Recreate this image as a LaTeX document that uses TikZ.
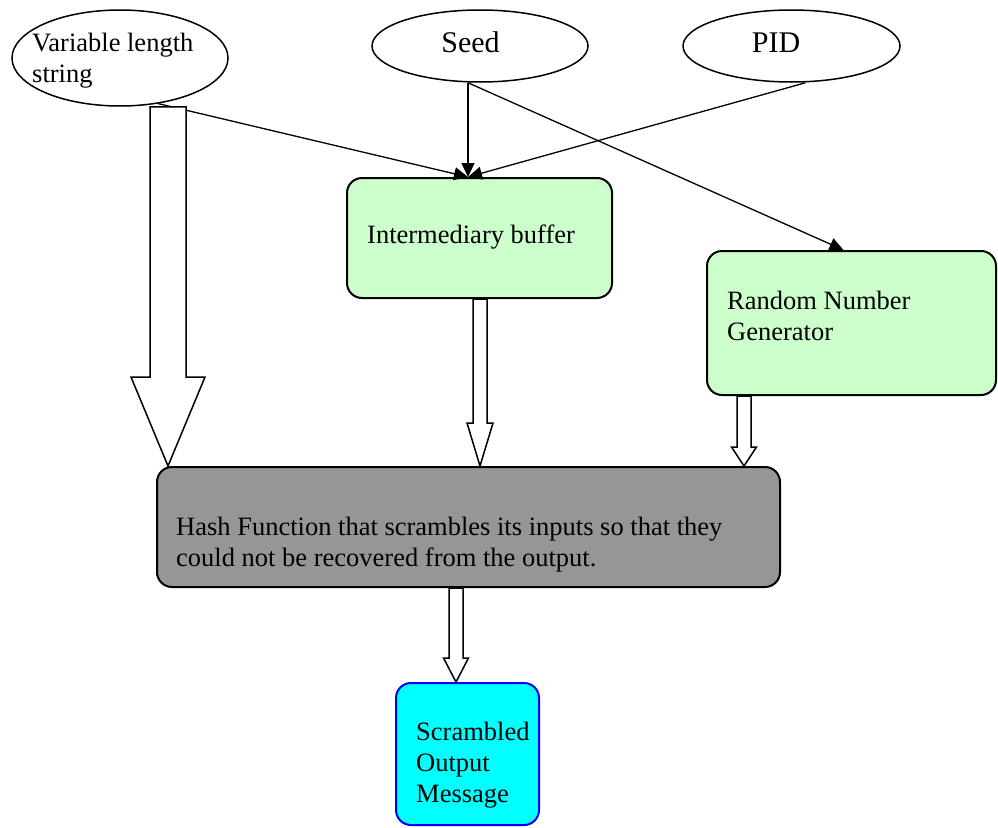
\documentclass[tikz,border=0pt]{standalone}
\usepackage{fontspec}
\setmainfont{Liberation Serif}
\usetikzlibrary{shapes.geometric,arrows.meta,calc}
\definecolor{boxgreen}{HTML}{CCFFCC}
\definecolor{hashgray}{HTML}{969696}
\definecolor{scrcyan}{HTML}{00FFFF}
\definecolor{scrblue}{HTML}{0000FF}
\tikzset{
  inputell/.style={ellipse, draw, line width=1.5pt, inner sep=0pt},
  procbox/.style={rectangle, rounded corners=15pt, draw, line width=2pt, inner sep=0pt},
  txt/.style={inner sep=0pt, anchor=base west, align=left, font=\fontsize{26.5}{31}\selectfont},
  bigtxt/.style={inner sep=0pt, anchor=base, font=\fontsize{30}{34}\selectfont},
  conn/.style={line width=1.3pt, -{Triangle[length=14pt,width=13pt]}},
  barrowst/.style={draw, fill=white, line width=1.5pt, line join=miter},
}
\newcommand{\barr}[5]{% start, end, shaft half, head half, head length
  \draw[barrowst] let \p1=(#1), \p2=(#2) in
    (\x1-#3pt,\y1) -- (\x1-#3pt,\y2+#5pt) -- (\x1-#4pt,\y2+#5pt) -- (\x1,\y2)
    -- (\x1+#4pt,\y2+#5pt) -- (\x1+#3pt,\y2+#5pt) -- (\x1+#3pt,\y1) -- cycle;}
\begin{document}
\begin{tikzpicture}[x=1pt,y=-1pt]
\useasboundingbox (0,0) rectangle (998,827);
% input ellipses
\node[inputell, minimum width=216pt, minimum height=96pt] (vls) at (120,58) {};
\node[txt] (vlst) at (32,82) {Variable length\\string};
\node[inputell, minimum width=216pt, minimum height=72pt] (seed) at (480,46) {};
\node[bigtxt] (seedt) at (470.5,52) {Seed};
\node[inputell, minimum width=217pt, minimum height=72pt] (pid) at (791.5,46) {};
\node[bigtxt] (pidt) at (776,52) {PID};
% process boxes
\node[procbox, fill=boxgreen, minimum width=265pt, minimum height=120pt] (ib) at (479.5,238) {};
\node[txt] (ibt) at (367,243) {Intermediary buffer};
\node[procbox, fill=boxgreen, minimum width=289pt, minimum height=144pt] (rng) at (851.5,323) {};
\node[txt] (rngt) at (727,340) {Random Number\\Generator};
\node[procbox, fill=hashgray, minimum width=623pt, minimum height=120pt] (hash) at (468.5,527) {};
\node[txt] (hasht) at (176,566) {Hash Function that scrambles its inputs so that they\\could not be recovered from the output.};
\node[procbox, draw=scrblue, fill=scrcyan, minimum width=143pt, minimum height=142pt] (scr) at (467.5,754) {};
\node[txt] (scrt) at (416,802) {Scrambled\\Output\\Message};
% connector end points
\coordinate (ibin) at ([xshift=-11.5pt]ib.north);
\coordinate (seedout) at (seed.south -| ibin);
\coordinate (rngin) at ([xshift=-8pt]rng.north);
\coordinate (pidout) at ([xshift=14pt]pid.south);
% thin arrows
\draw[conn] (vls.-50) -- (ibin);
\draw[conn] (seedout) -- (ibin);
\draw[conn] (pidout) -- (ibin);
\draw[conn] (seedout) -- (rngin);
% block arrows
\coordinate (a1s) at ([xshift=48pt]vls.south);
\coordinate (a1e) at (a1s |- hash.north);
\barr{a1s}{a1e}{18}{37}{89}
\coordinate (a2s) at ([xshift=0.5pt]ib.south);
\coordinate (a2e) at (a2s |- hash.north);
\barr{a2s}{a2e}{7}{13}{43}
\coordinate (a3s) at (rng.south -| 744,0);
\coordinate (a3e) at (a3s |- hash.north);
\barr{a3s}{a3e}{7}{12.5}{19}
\coordinate (a4s) at (hash.south -| 456,0);
\coordinate (a4e) at (a4s |- scr.north);
\barr{a4s}{a4e}{7}{12.5}{24}
\end{tikzpicture}
\end{document}
